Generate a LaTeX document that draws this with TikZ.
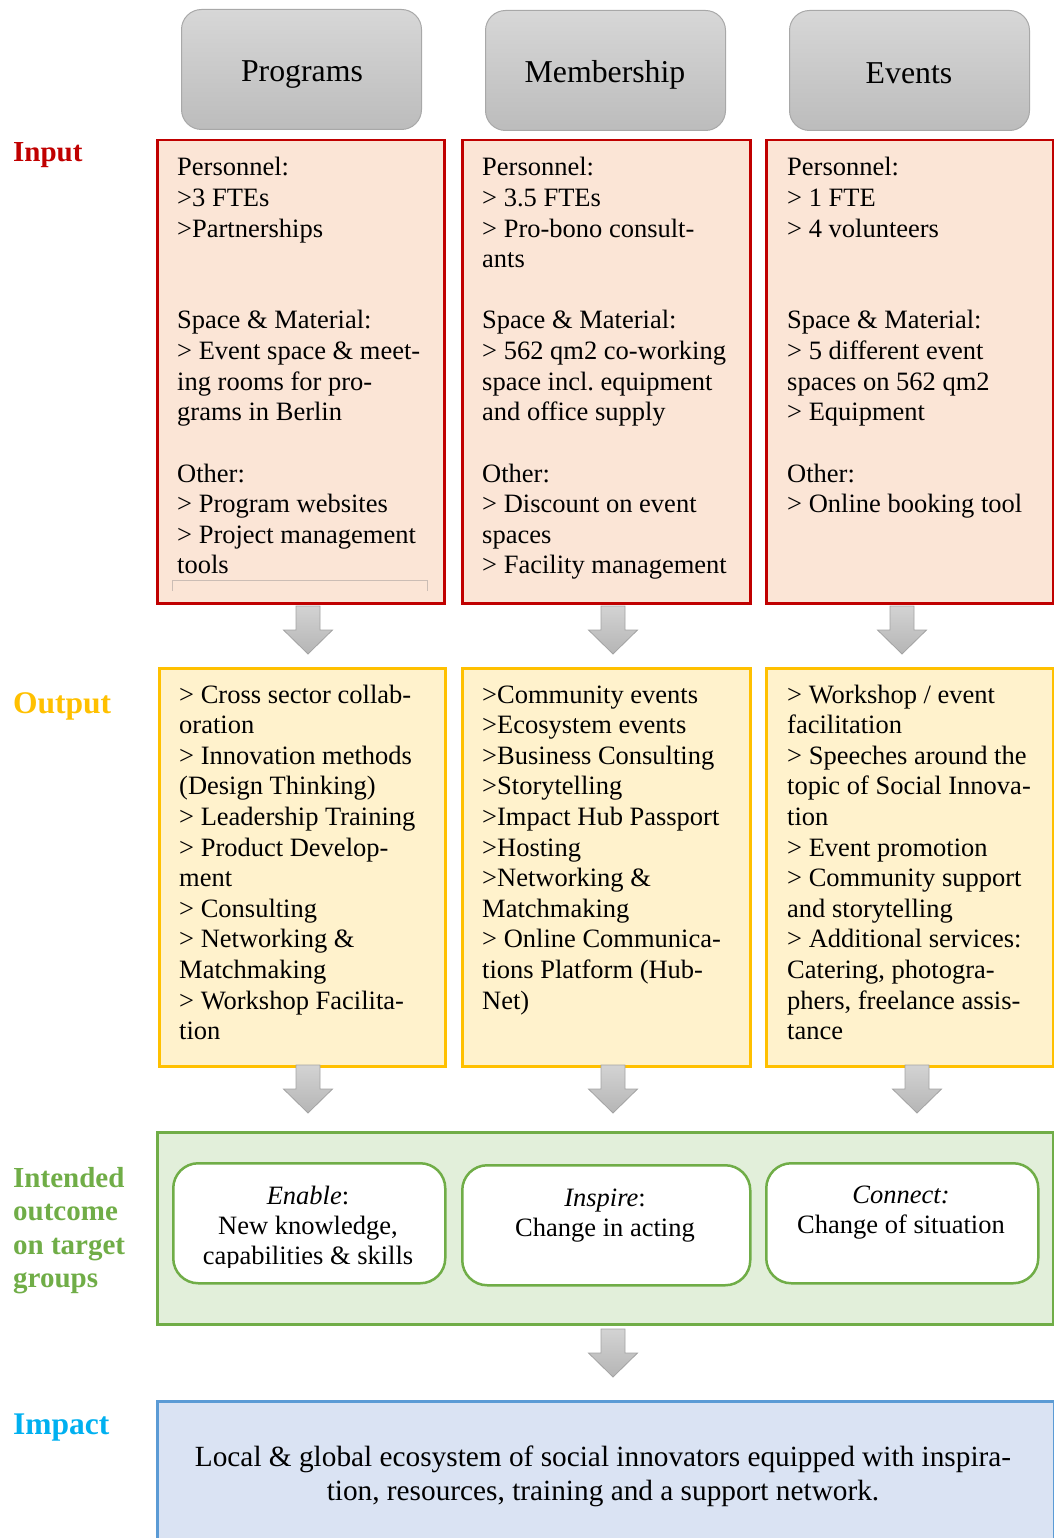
\documentclass[tikz,border=0pt]{standalone}
\usepackage{fontspec}
\setmainfont{Liberation Serif}
\usetikzlibrary{calc}
\definecolor{inred}{HTML}{C00000}
\definecolor{infill}{HTML}{FBE5D6}
\definecolor{outyel}{HTML}{FFC000}
\definecolor{outfill}{HTML}{FFF2CC}
\definecolor{ocgreen}{HTML}{70AD47}
\definecolor{ocfill}{HTML}{E2EFDA}
\definecolor{impblue}{HTML}{5B9BD5}
\definecolor{impfill}{HTML}{DAE3F3}
\definecolor{implbl}{HTML}{00B0F0}
\definecolor{hdtop}{HTML}{D7D7D7}
\definecolor{hdbot}{HTML}{BCBCBC}
\definecolor{hdline}{HTML}{A8A8A8}
\definecolor{artop}{HTML}{D3D3D3}
\definecolor{arbot}{HTML}{B5B5B5}
\definecolor{arline}{HTML}{A3A3A3}
\definecolor{oddline}{HTML}{CBBDB5}
\newcommand\blkarrow[1]{\shade[blk, shift={(#1)}] (-12,0) -- (12,0) -- (12,24) -- (24.5,24) -- (0,48) -- (-24.5,24) -- (-12,24) -- cycle;}
\newcommand\tightsp{\frenchspacing\spaceskip=0.25em\xspaceskip=0.25em\relax}
\begin{document}
\begin{tikzpicture}[x=1pt,y=-1pt,
  hdr/.style={draw=hdline, line width=1pt, rounded corners=20pt, top color=hdtop, bottom color=hdbot, minimum width=240pt, minimum height=120pt, anchor=north west, inner sep=0pt},
  hdrtext/.style={font=\fontsize{31.8}{36}\selectfont, anchor=base, inner sep=0pt},
  inbox/.style={draw=inred, fill=infill, line width=2.5pt, minimum height=463pt, anchor=north west, inner sep=0pt},
  outbox/.style={draw=outyel, fill=outfill, line width=2.5pt, minimum height=398pt, anchor=north west, inner sep=0pt},
  ocbox/.style={draw=ocgreen, fill=ocfill, line width=2.5pt, anchor=north west, inner sep=0pt},
  ocinner/.style={draw=ocgreen, fill=white, line width=2.5pt, rounded corners=25pt, anchor=north west, inner sep=0pt, minimum height=120pt},
  impbox/.style={draw=impblue, fill=impfill, line width=2.5pt, anchor=north west, inner sep=0pt},
  bodytext/.style={font=\fontsize{26.5}{30.6}\selectfont, text width=320pt, align=left, anchor=base west, inner sep=0pt},
  octext/.style={font=\fontsize{26.5}{30}\selectfont, text width=280pt, align=center, anchor=base, inner sep=0pt},
  lbl/.style={font=\fontsize{29}{33.5}\selectfont\bfseries, text width=150pt, align=left, anchor=base west, inner sep=0pt},
  lblbig/.style={font=\fontsize{31.5}{36}\selectfont\bfseries, text width=150pt, align=left, anchor=base west, inner sep=0pt},
  blk/.style={draw=arline, line width=0.8pt, top color=artop, bottom color=arbot}
]
\useasboundingbox (0,0) rectangle (1053,1538);

% headers
\node[hdr] (h1) at (181,9) {};
\node[hdr] (h2) at (485,10) {};
\node[hdr] (h3) at (789,10) {};
\node[hdrtext] (h1t) at (302,82) {Programs};
\node[hdrtext] (h2t) at (605,83) {Membership};
\node[hdrtext] (h3t) at (909,84) {Events};

% labels
\node[lbl, text=inred] (linput) at (13,162) {Input};
\node[lblbig, text=outyel] (loutput) at (13,713) {Output};
\node[lbl, text=ocgreen] (loc) at (13,1187) {\tightsp Intended\\outcome\\on target\\groups};
\node[lblbig, text=implbl] (limp) at (13,1434) {Impact};

% input boxes
\node[inbox, minimum width=287pt] (in1) at (156,139) {};
\node[inbox, minimum width=288pt] (in2) at (461,139) {};
\node[inbox, minimum width=287pt] (in3) at (765,139) {};
\draw[oddline, line width=0.8pt] (172,590.5) -- (172,580.5) -- (427,580.5) -- (427,590.5);

\node[bodytext] (in1t) at (177,176) {\tightsp Personnel:\\>3 FTEs\\>Partnerships\\\mbox{}\\\mbox{}\\Space \& Material:\\> Event space \& meet-\\ing rooms for pro-\\grams in Berlin\\\mbox{}\\Other:\\> Program websites\\> Project management\\tools};
\node[bodytext] (in2t) at (482,176) {\tightsp Personnel:\\> 3.5 FTEs\\> Pro-bono consult-\\ants\\\mbox{}\\Space \& Material:\\> 562 qm2 co-working\\space incl. equipment\\and office supply\\\mbox{}\\Other:\\> Discount on event\\spaces\\> Facility management};
\node[bodytext] (in3t) at (787,176) {\tightsp Personnel:\\> 1 FTE\\> 4 volunteers\\\mbox{}\\\mbox{}\\Space \& Material:\\> 5 different event\\spaces on 562 qm2\\> Equipment\\\mbox{}\\Other:\\> Online booking tool};

% arrows input -> output
\coordinate (a1) at (308,606);
\coordinate (a2) at (613,606);
\coordinate (a3) at (902,606);
\blkarrow{a1}
\blkarrow{a2}
\blkarrow{a3}

% output boxes
\node[outbox, minimum width=286pt] (out1) at (158,667) {};
\node[outbox, minimum width=288pt] (out2) at (461,667) {};
\node[outbox, minimum width=287pt] (out3) at (765,667) {};

\node[bodytext] (out1t) at (179,703) {\tightsp > Cross sector collab-\\oration\\> Innovation methods\\(Design Thinking)\\> Leadership Training\\> Product Develop-\\ment\\> Consulting\\> Networking \&\\Matchmaking\\> Workshop Facilita-\\tion};
\node[bodytext] (out2t) at (482,703) {\tightsp >Community events\\>Ecosystem events\\>Business Consulting\\>Storytelling\\>Impact Hub Passport\\>Hosting\\>Networking \&\\Matchmaking\\> Online Communica-\\tions Platform (Hub-\\Net)};
\node[bodytext] (out3t) at (787,703) {\tightsp > Workshop / event\\facilitation\\> Speeches around the\\topic of Social Innova-\\tion\\> Event promotion\\> Community support\\and storytelling\\> Additional services:\\Catering, photogra-\\phers, freelance assis-\\tance};

% arrows output -> outcome
\coordinate (b1) at (308,1065);
\coordinate (b2) at (613,1065);
\coordinate (b3) at (917,1065);
\blkarrow{b1}
\blkarrow{b2}
\blkarrow{b3}

% outcome
\node[ocbox, minimum width=896pt, minimum height=192pt] (oc) at (156,1131) {};
\node[ocinner, minimum width=272pt] (oc1) at (172,1162) {};
\node[ocinner, minimum width=288pt] (oc2) at (461,1164) {};
\node[ocinner, minimum width=272pt] (oc3) at (765,1162) {};
\begin{scope}
\clip (172,1150) rectangle (444,1267);
\node[octext] (oc1t) at (308,1204) {\tightsp\textit{Enable}:\\New knowledge,\\capabilities \& skills};
\end{scope}
\node[octext] (oc2t) at (605,1206) {\tightsp\textit{Inspire}:\\Change in acting};
\node[octext] (oc3t) at (901,1203) {\tightsp\textit{Connect:}\\Change of situation};

% arrow outcome -> impact
\coordinate (c1) at (613,1329);
\blkarrow{c1}

% impact
\node[impbox, minimum width=897pt, minimum height=170pt] (imp) at (156,1400) {};
\node[octext, font=\fontsize{29.3}{34}\selectfont, text width=900pt] (impt) at (603,1466) {\tightsp Local \& global ecosystem of social innovators equipped with inspira-\\tion, resources, training and a support network.};
\end{tikzpicture}
\end{document}
